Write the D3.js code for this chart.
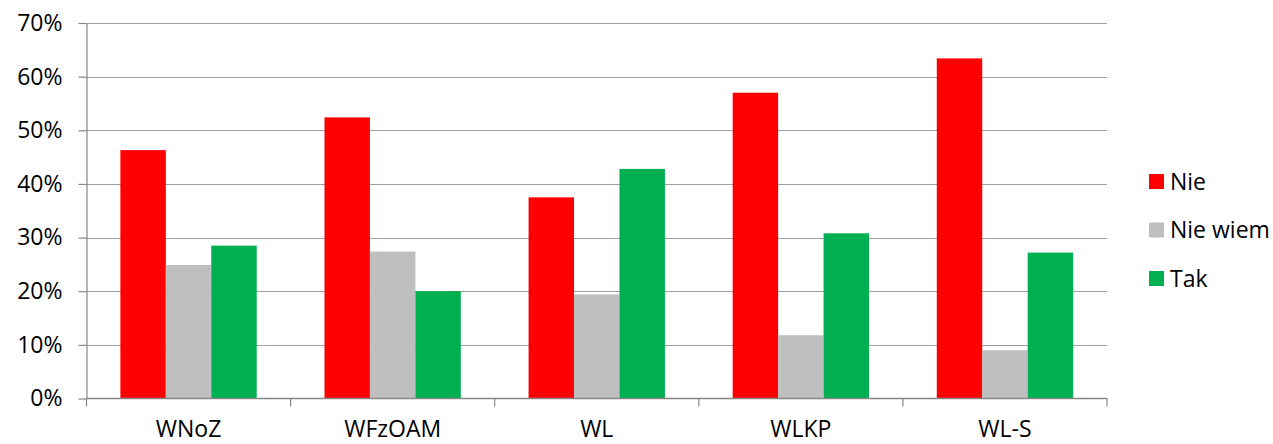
<!DOCTYPE html>
<html>
<head>
<meta charset="utf-8">
<script src="https://cdn.jsdelivr.net/npm/d3@7/dist/d3.min.js"></script>
<style>
  html, body { margin: 0; padding: 0; background: #fff; }
  svg { display: block; }
  text { font-family: "Open Sans", "Noto Sans", sans-serif; fill: #000; }
</style>
</head>
<body>
<svg id="chart" width="1273" height="444"></svg>
<script>
// Survey answers by faculty (share of respondents)
const categories = ["WNoZ", "WFzOAM", "WL", "WLKP", "WL-S"];
const seriesNames = ["Nie", "Nie wiem", "Tak"];
const nie     = [0.463, 0.524, 0.375, 0.570, 0.634];
const nieWiem = [0.249, 0.274, 0.194, 0.118, 0.090];
const tak     = [0.285, 0.200, 0.428, 0.308, 0.272];
const yTicks = [0, 0.1, 0.2, 0.3, 0.4, 0.5, 0.6, 0.7];
const colors = ["#FF0000", "#BFBFBF", "#00B050"];

const seriesValues = [nie, nieWiem, tak];
const rows = categories.map((c, i) => ({
  category: c,
  values: seriesNames.map((s, k) => ({ series: s, value: seriesValues[k][i], k }))
}));

const svg = d3.select("#chart");
const margin = { left: 86.5, right: 166, top: 23, bottom: 45 };
const W = 1273, H = 444;
const x0 = margin.left, x1 = W - margin.right;
const yTop = margin.top, yBot = H - margin.bottom - 0.5;
const fontSize = "23px";

const x = d3.scaleBand().domain(categories).range([x0, x1])
  .paddingInner(0.332).paddingOuter(0.166);
const xs = d3.scaleBand().domain(seriesNames).range([0, x.bandwidth()]).padding(0);
const bandFull = d3.scaleBand().domain(categories).range([x0, x1]);
const y = d3.scaleLinear().domain([0, 0.7]).range([yBot, yTop]);

// horizontal gridlines
svg.append("g")
  .selectAll("line")
  .data(yTicks.filter(t => t > 0))
  .join("line")
  .attr("x1", x0).attr("x2", x1)
  .attr("y1", d => Math.round(y(d)) + 0.5).attr("y2", d => Math.round(y(d)) + 0.5)
  .attr("stroke", "#A0A0A0").attr("stroke-width", 1.2);

// bars
const groups = svg.append("g")
  .selectAll("g")
  .data(rows)
  .join("g")
  .attr("transform", d => `translate(${x(d.category)},0)`);

groups.selectAll("rect")
  .data(d => d.values)
  .join("rect")
  .attr("x", d => xs(d.series))
  .attr("width", xs.bandwidth())
  .attr("y", d => y(d.value))
  .attr("height", d => yBot - y(d.value))
  .attr("fill", d => colors[d.k]);

// y axis
const yAxis = d3.axisLeft(y).tickValues(yTicks)
  .tickFormat(d3.format(".0%")).tickSizeInner(8).tickSizeOuter(0).tickPadding(16);
const gy = svg.append("g").attr("transform", `translate(${x0},0)`).call(yAxis);
gy.select(".domain").attr("stroke", "#868686").attr("stroke-width", 1.2);
gy.selectAll(".tick line").attr("stroke", "#868686").attr("stroke-width", 1.2);
gy.selectAll(".tick text").style("font-size", fontSize).attr("fill", "#000");

// x axis with tick marks at category boundaries
const gx = svg.append("g").attr("transform", `translate(0,${yBot})`);
gx.append("line").attr("x1", x0).attr("x2", x1).attr("y1", 0).attr("y2", 0)
  .attr("stroke", "#868686").attr("stroke-width", 1.5);
const boundaries = categories.map(c => bandFull(c)).concat([x1]);
gx.selectAll("line.tk").data(boundaries).join("line").attr("class", "tk")
  .attr("x1", d => d).attr("x2", d => d).attr("y1", 0).attr("y2", 8)
  .attr("stroke", "#868686").attr("stroke-width", 1.2);
gx.selectAll("text").data(categories).join("text")
  .attr("x", d => bandFull(d) + bandFull.bandwidth() / 2)
  .attr("y", 38.5)
  .attr("text-anchor", "middle")
  .style("font-size", fontSize)
  .text(d => d);

// legend
const legend = svg.append("g").attr("transform", "translate(1149,174)");
const li = legend.selectAll("g").data(seriesNames).join("g")
  .attr("transform", (d, i) => `translate(0,${i * 48.5})`);
li.append("rect").attr("width", 15).attr("height", 15).attr("fill", (d, i) => colors[i]);
li.append("text").attr("x", 21).attr("y", 7.5).attr("dy", "0.36em")
  .style("font-size", fontSize).text(d => d);
</script>
</body>
</html>
